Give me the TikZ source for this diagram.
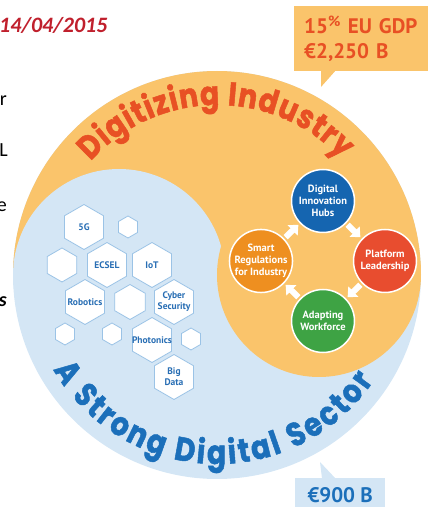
\documentclass[tikz,border=0pt]{standalone}
\usepackage{fontspec}
\setmainfont{PT Sans}
\newfontfamily\arcfont{Poppins}[FakeStretch=0.85, BoldFeatures={FakeBold=1.5}]
\newfontfamily\slidefont{Carlito}
\usetikzlibrary{shapes.geometric,arrows.meta,decorations.text}

\definecolor{indfill}{RGB}{250,196,107}
\definecolor{digfill}{RGB}{212,230,245}
\definecolor{indred}{RGB}{232,80,36}
\definecolor{digblue}{RGB}{27,111,186}
\definecolor{hexline}{RGB}{155,195,230}
\definecolor{hexblue}{RGB}{40,110,180}
\definecolor{hubblue}{RGB}{21,101,176}
\definecolor{platred}{RGB}{232,77,47}
\definecolor{workgreen}{RGB}{62,163,68}
\definecolor{regorange}{RGB}{238,143,32}
\definecolor{datered}{RGB}{192,32,45}

\tikzset{
  hexa/.style={regular polygon, regular polygon sides=6, shape border rotate=30, draw=hexline, line width=0.8pt, fill=white, inner sep=0pt, minimum size=#1},
  hexa/.default=45,
  hextxt/.style={text=hexblue, font=\bfseries\fontsize{9.5}{11}\selectfont, align=center, inner sep=0pt},
  pillar/.style={circle, draw=white, line width=1.5pt, minimum size=63, inner sep=0pt, text=white, align=center, font=\bfseries\fontsize{10.5}{12.3}\selectfont},
  flow/.style={white, line width=6pt, -{Triangle[width=14pt,length=8pt]}, shorten <=2pt, shorten >=2pt},
  slide/.style={anchor=base east, inner sep=0pt, font=\slidefont\fontsize{20}{24}\selectfont}
}

\begin{document}
\begin{tikzpicture}[x=1pt, y=1pt]
\useasboundingbox (0,0) rectangle (428,507);

\coordinate (c) at (217,232);
\fill[digfill] (c) circle[radius=204];
\fill[indfill] (13,232) arc[start angle=180, end angle=0, radius=204] -- cycle;
\fill[digfill] (119,232) circle[radius=106];
\fill[indfill] (319,232) circle[radius=102];

\path[decorate, decoration={text along path, text align=fit to path,
  text={|\arcfont\bfseries\fontsize{33}{33}\selectfont\color{indred}|Digitizing Industry}}]
  (c) ++(138:170) arc[start angle=138, end angle=43, radius=170];
\path[decorate, decoration={text along path, text align=fit to path,
  text={|\arcfont\bfseries\fontsize{33}{33}\selectfont\color{digblue}|A Strong Digital Sector}}]
  (c) ++(210:189) arc[start angle=210, end angle=326, radius=189];

\node[hexa, label={[hextxt]center:5G}](fiveg) at (84,280){};
\node[hexa=22](e1) at (128,280){};
\node[hexa=34](e2) at (62,242){};
\node[hexa, label={[hextxt]center:ECSEL}](ecsel) at (107,242){};
\node[hexa, label={[hextxt]center:IoT}](iot) at (152,242){};
\node[hexa, label={[hextxt]center:Robotics}](robotics) at (85,205){};
\node[hexa=35](e3) at (130,205){};
\node[hexa, label={[hextxt]center:{Cyber\\Security}}](cyber) at (174,205){};
\node[hexa=22](e4) at (65,173){};
\node[hexa=22](e5) at (112,173){};
\node[hexa, label={[hextxt]center:Photonics}](photonics) at (152,167){};
\node[hexa=22](e6) at (191,168){};
\node[hexa, label={[hextxt]center:{Big\\Data}}](bigdata) at (174,130){};

\node[pillar, fill=hubblue](hubs) at (323,306){Digital\\Innovation\\Hubs};
\node[pillar, fill=platred](platform) at (385,246){Platform\\Leadership};
\node[pillar, fill=workgreen](workforce) at (323,186){Adapting\\Workforce};
\node[pillar, fill=regorange](regulations) at (261,246){Smart\\Regulations\\for Industry};
\foreach \from/\to in {regulations/hubs,hubs/platform,platform/workforce,workforce/regulations}
 \draw[flow] (\from) -- (\to);

\node[anchor=north west, fill=indfill, minimum height=65, inner xsep=10pt, text width=120, align=left, text=indred, font=\bfseries\fontsize{21}{25}\selectfont](gdp) at (294,501){15\textsuperscript{\%} EU GDP\\€2,250 B};
\coordinate (gdptip) at (321,420);
\fill[indfill] (gdp.south west) ++(27,1) -- (gdptip) -- ++(16,18) -- cycle;

\node[anchor=south west, fill=digfill, minimum width=90, minimum height=35, inner sep=0pt, text=digblue, font=\bfseries\fontsize{21}{21}\selectfont](eur) at (295,-6){€900 B};
\coordinate (eurtip) at (320,45);
\fill[digfill] (eur.north west) ++(27,-1) -- (eurtip) -- ++(16,-17) -- cycle;

\node[anchor=base west, inner sep=0pt, text=datered, font=\slidefont\bfseries\itshape\fontsize{22}{26}\selectfont](date) at (-1,474){14/04/2015};
\node[slide](r) at (7,401){r};
\node[slide](l) at (8,350){L};
\node[slide](e) at (7,295){e};
\node[slide, font=\slidefont\bfseries\itshape\fontsize{20}{24}\selectfont](s) at (7,200){s};
\end{tikzpicture}
\end{document}
